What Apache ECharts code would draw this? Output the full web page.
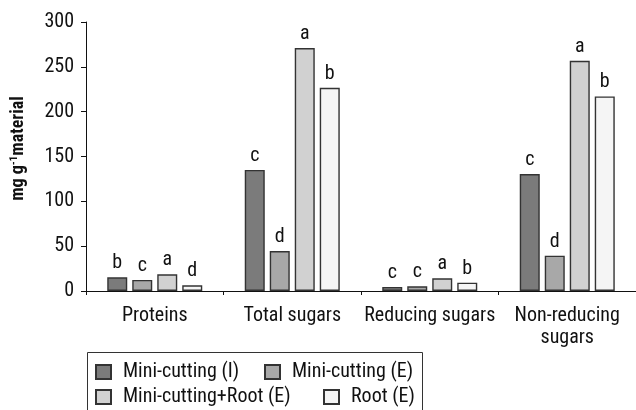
<!DOCTYPE html>
<html>
<head>
<meta charset="utf-8">
<script src="https://cdn.jsdelivr.net/npm/echarts@6/dist/echarts.min.js"></script>
<style>html,body{margin:0;padding:0;background:#fff}#c{width:636px;height:410px}</style>
</head>
<body>
<div id="c"></div>
<script>
const categories = ['Proteins', 'Total sugars', 'Reducing sugars', 'Non-reducing\nsugars'];
const seriesNames = ['Mini-cutting (I)', 'Mini-cutting (E)', 'Mini-cutting+Root (E)', 'Root (E)'];
const miniCuttingI = [15.2, 135, 4.5, 130.4];
const miniCuttingE = [12.3, 44.6, 5.2, 39.4];
const miniCuttingRootE = [18.6, 271, 14.2, 256.8];
const rootE = [6.3, 226.7, 9.3, 217];
const lettersI = ['b', 'c', 'c', 'c'];
const lettersE = ['c', 'd', 'c', 'd'];
const lettersRootE = ['a', 'a', 'a', 'a'];
const lettersRoot = ['d', 'b', 'b', 'b'];
const yTicks = [0, 50, 100, 150, 200, 250, 300];

const FONT = "'Roboto Condensed', 'DejaVu Sans Condensed', 'Liberation Sans', sans-serif";
const colors = ['#7b7b7b', '#a8a8a8', '#d1d1d1', '#f5f5f5'];
const allValues = [miniCuttingI, miniCuttingE, miniCuttingRootE, rootE];
const allLetters = [lettersI, lettersE, lettersRootE, lettersRoot];

const series = allValues.map((vals, i) => ({
  name: seriesNames[i],
  type: 'bar',
  data: vals,
  barWidth: 20,
  barGap: '25%',
  itemStyle: { color: colors[i], borderColor: '#333', borderWidth: 1.4 },
  label: {
    show: true, position: 'top', distance: 4,
    fontFamily: FONT, fontSize: 20, color: '#111',
    formatter: p => allLetters[i][p.dataIndex]
  }
}));

const legendPos = [
  { left: 95, top: 362 },
  { left: 264, top: 362 },
  { left: 95, top: 387 },
  { left: 323, top: 387 }
];
const legends = seriesNames.map((n, i) => ({
  data: [n],
  left: legendPos[i].left, top: legendPos[i].top,
  padding: 0,
  icon: 'rect', itemWidth: 15, itemHeight: 14,
  selectedMode: false,
  textStyle: { fontFamily: FONT, fontSize: 20, color: '#111', padding: [0, 0, 0, 7], lineHeight: 14 }
}));

const chart = echarts.init(document.getElementById('c'), null, { renderer: 'canvas' });
chart.setOption({
  animation: false,
  backgroundColor: '#fff',
  grid: { left: 86, top: 22, width: 554, bottom: 119, containLabel: false },
  legend: legends,
  graphic: [{
    type: 'rect', left: 85, top: 350,
    shape: { width: 335, height: 70 },
    style: { fill: 'none', stroke: '#333', lineWidth: 1 }
  }],
  xAxis: {
    type: 'category', data: categories,
    axisLine: { lineStyle: { color: '#111', width: 1 } },
    axisTick: { show: true, length: 4, lineStyle: { color: '#111' } },
    axisLabel: { fontFamily: FONT, fontSize: 20, color: '#111', margin: 14, lineHeight: 22, interval: 0 }
  },
  yAxis: {
    type: 'value', min: 0, max: 300, interval: 50,
    name: '{a|mg g}{s|-1}{a|material}',
    nameLocation: 'middle', nameGap: 58, nameRotate: 90,
    nameTextStyle: {
      padding: [0, 0, 0, 16],
      rich: {
        a: { fontFamily: FONT, fontWeight: 'bold', fontSize: 18, color: '#111' },
        s: { fontFamily: FONT, fontWeight: 'bold', fontSize: 11, color: '#111', verticalAlign: 'top', padding: [0, 0, 8, 0] }
      }
    },
    splitLine: { show: false },
    axisLine: { show: true, lineStyle: { color: '#111', width: 1 } },
    axisTick: { show: true, length: 5, inside: false, lineStyle: { color: '#111' } },
    axisLabel: { fontFamily: FONT, fontSize: 20, color: '#111', margin: 12, formatter: v => yTicks.includes(v) ? String(v) : '' }
  },
  series: series
});
</script>
</body>
</html>
